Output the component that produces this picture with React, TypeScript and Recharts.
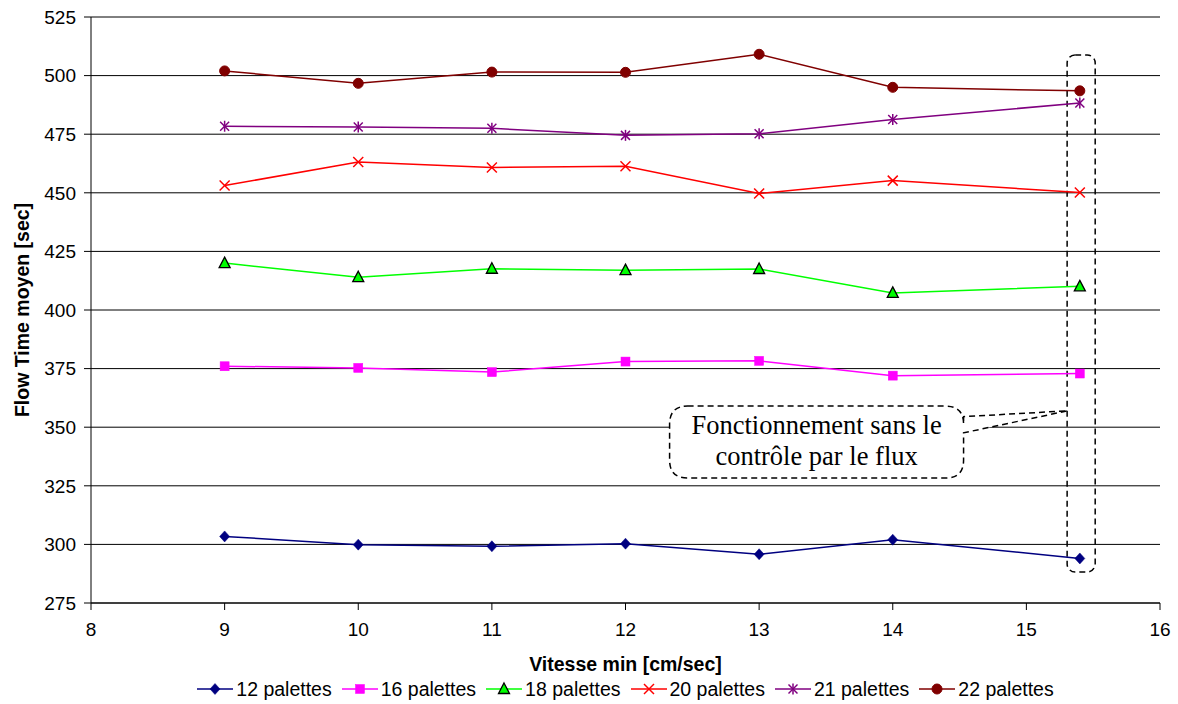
import React from 'react';
import { LineChart, Line, XAxis, YAxis, CartesianGrid, Legend, ReferenceArea, Label } from 'recharts';

const xValues = [9, 10, 11, 12, 13, 14, 15.4];
const p12 = [303.4, 299.9, 299.2, 300.3, 295.8, 302.0, 294.0];
const p16 = [376.0, 375.3, 373.5, 378.0, 378.3, 372.0, 372.9];
const p18 = [420.0, 414.0, 417.6, 417.0, 417.5, 407.3, 410.1];
const p20 = [453.1, 463.1, 460.8, 461.3, 449.7, 455.2, 450.1];
const p21 = [478.4, 478.1, 477.5, 474.5, 475.2, 481.3, 488.3];
const p22 = [502.0, 496.7, 501.5, 501.4, 509.1, 495.0, 493.5];

const seriesNames = ['12 palettes', '16 palettes', '18 palettes', '20 palettes', '21 palettes', '22 palettes'];
const seriesValues = [p12, p16, p18, p20, p21, p22];
const seriesColors = ['#000080', '#FF00FF', '#00FF00', '#FF0000', '#800080', '#800000'];
const seriesMarkers = ['diamond', 'square', 'triangle', 'x', 'star', 'circle'];

const xTicks = [8, 9, 10, 11, 12, 13, 14, 15, 16];
const yTicks = [275, 300, 325, 350, 375, 400, 425, 450, 475, 500, 525];

const xTitle = 'Vitesse min [cm/sec]';
const yTitle = 'Flow Time moyen [sec]';

// annotation (data coordinates)
const calloutLines = ['Fonctionnement sans le', 'contrôle par le flux'];
const calloutBox = { x1: 12.33, x2: 14.53, y1: 328.3, y2: 359.0 };
const calloutTip = { x: 15.31, y: 357.0 };
const calloutBase = { yTop: 354.5, yBottom: 347.6 };
const columnBox = { x1: 15.305, x2: 15.515, y1: 288.2, y2: 508.8 };

const data = xValues.map((x, i) => {
  const row: Record<string, number> = { x };
  seriesNames.forEach((n, k) => {
    row[n] = seriesValues[k][i];
  });
  return row;
});

const SANS = '"Liberation Sans", Arial, sans-serif';
const SERIF = '"Liberation Serif", "Times New Roman", serif';

function Marker({ type, color, cx, cy }: { type: string; color: string; cx: number; cy: number }) {
  switch (type) {
    case 'diamond':
      return <path d={`M${cx},${cy - 5.5}L${cx + 5},${cy}L${cx},${cy + 5.5}L${cx - 5},${cy}Z`} fill={color} stroke={color} strokeWidth={0.5} />;
    case 'square':
      return <rect x={cx - 4.5} y={cy - 4.5} width={9} height={9} fill={color} stroke={color} strokeWidth={0.5} />;
    case 'triangle':
      return <path d={`M${cx},${cy - 6}L${cx + 5.5},${cy + 4.5}L${cx - 5.5},${cy + 4.5}Z`} fill={color} stroke="#000" strokeWidth={1.3} />;
    case 'x':
      return (
        <g stroke={color} strokeWidth={1.5}>
          <line x1={cx - 5} y1={cy - 5} x2={cx + 5} y2={cy + 5} />
          <line x1={cx - 5} y1={cy + 5} x2={cx + 5} y2={cy - 5} />
        </g>
      );
    case 'star':
      return (
        <g stroke={color} strokeWidth={1.5}>
          <line x1={cx - 4.5} y1={cy - 4.5} x2={cx + 4.5} y2={cy + 4.5} />
          <line x1={cx - 4.5} y1={cy + 4.5} x2={cx + 4.5} y2={cy - 4.5} />
          <line x1={cx} y1={cy - 5.5} x2={cx} y2={cy + 5.5} />
        </g>
      );
    default:
      return <circle cx={cx} cy={cy} r={5} fill={color} stroke={color} />;
  }
}

function makeDot(k: number) {
  return (props: any) => {
    const { cx, cy, index } = props;
    if (cx == null || cy == null) return <g key={`d${k}-${index}`} />;
    return (
      <g key={`d${k}-${index}`}>
        <Marker type={seriesMarkers[k]} color={seriesColors[k]} cx={cx} cy={cy} />
      </g>
    );
  };
}

function LegendContent() {
  return (
    <div style={{ display: 'flex', justifyContent: 'center', alignItems: 'center', fontFamily: SANS, fontSize: 19.5, color: '#000' }}>
      {seriesNames.map((n, k) => (
        <div key={n} style={{ display: 'flex', alignItems: 'center', marginRight: k < seriesNames.length - 1 ? 10 : 0 }}>
          <svg width={36} height={16} style={{ marginRight: 3 }}>
            <line x1={0} y1={8} x2={36} y2={8} stroke={seriesColors[k]} strokeWidth={1.5} />
            <Marker type={seriesMarkers[k]} color={seriesColors[k]} cx={18} cy={8} />
          </svg>
          <span style={{ lineHeight: '22px' }}>{n}</span>
        </div>
      ))}
    </div>
  );
}

function CalloutShape(props: any) {
  const { x, y, width, height } = props;
  if (x == null) return null;
  const spanX = calloutTip.x - calloutBox.x1;
  const spanY = calloutBox.y2 - calloutBox.y1;
  const right = x + (width * (calloutBox.x2 - calloutBox.x1)) / spanX;
  const tipX = x + width;
  const tipY = y + (height * (calloutBox.y2 - calloutTip.y)) / spanY;
  const baseTop = y + (height * (calloutBox.y2 - calloutBase.yTop)) / spanY;
  const baseBot = y + (height * (calloutBox.y2 - calloutBase.yBottom)) / spanY;
  const left = x;
  const top = y;
  const bottom = y + height;
  const r = 18;
  const d = [
    `M${left + r},${top}`,
    `L${right - r},${top}`,
    `Q${right},${top} ${right},${top + r}`,
    `L${right},${baseTop}`,
    `L${tipX},${tipY}`,
    `L${right},${baseBot}`,
    `L${right},${bottom - r}`,
    `Q${right},${bottom} ${right - r},${bottom}`,
    `L${left + r},${bottom}`,
    `Q${left},${bottom} ${left},${bottom - r}`,
    `L${left},${top + r}`,
    `Q${left},${top} ${left + r},${top}`,
    'Z',
  ].join(' ');
  const cx = (left + right) / 2;
  return (
    <g>
      <path d={d} fill="#fff" stroke="#000" strokeWidth={1.5} strokeDasharray="6 4" />
      {calloutLines.map((t, i) => (
        <text key={t} x={cx} y={top + 28 + i * 31} textAnchor="middle" fontFamily={SERIF} fontSize={26.5} fill="#000">
          {t}
        </text>
      ))}
    </g>
  );
}

function ColumnShape(props: any) {
  const { x, y, width, height } = props;
  if (x == null) return null;
  return <rect x={x} y={y} width={width} height={height} rx={8} ry={8} fill="none" stroke="#000" strokeWidth={1.5} strokeDasharray="6 4" />;
}

export default function App() {
  return (
    <div style={{ position: 'absolute', left: 0, top: 0, width: 1178, height: 704, background: '#fff' }}>
      <LineChart width={1178} height={704} data={data} margin={{ top: 17, right: 18, bottom: 0, left: 0 }}>
        <CartesianGrid vertical={false} horizontal stroke="#000" strokeWidth={1} />
        <XAxis
          dataKey="x"
          type="number"
          domain={[8, 16]}
          ticks={xTicks}
          interval={0}
          height={65}
          stroke="#000"
          tickSize={7}
          tickMargin={13}
          tick={{ fill: '#000', fontFamily: SANS, fontSize: 19 }}
          allowDataOverflow
        >
          <Label
            content={(p: any) => {
              const vb = p.viewBox || {};
              return (
                <text x={vb.x + vb.width / 2} y={vb.y + 68} textAnchor="middle" fontFamily={SANS} fontWeight="bold" fontSize={19.5} fill="#000">
                  {xTitle}
                </text>
              );
            }}
          />
        </XAxis>
        <YAxis
          type="number"
          domain={[275, 525]}
          ticks={yTicks}
          interval={0}
          width={91}
          stroke="#000"
          tickSize={7}
          tickMargin={8}
          tick={{ fill: '#000', fontFamily: SANS, fontSize: 19 }}
          allowDataOverflow
        >
          <Label
            content={(p: any) => {
              const vb = p.viewBox || {};
              const cx = vb.x + 29;
              const cy = vb.y + vb.height / 2;
              return (
                <text x={cx} y={cy} transform={`rotate(-90 ${cx} ${cy})`} textAnchor="middle" fontFamily={SANS} fontWeight="bold" fontSize={19.5} fill="#000">
                  {yTitle}
                </text>
              );
            }}
          />
        </YAxis>
        <ReferenceArea
          x1={columnBox.x1}
          x2={columnBox.x2}
          y1={columnBox.y1}
          y2={columnBox.y2}
          shape={(p: any) => <ColumnShape {...p} />}
          ifOverflow="visible"
        />
        <ReferenceArea
          x1={calloutBox.x1}
          x2={calloutTip.x}
          y1={calloutBox.y1}
          y2={calloutBox.y2}
          shape={(p: any) => <CalloutShape {...p} />}
          ifOverflow="visible"
        />
        {seriesNames.map((n, k) => (
          <Line
            key={n}
            dataKey={n}
            name={n}
            stroke={seriesColors[k]}
            strokeWidth={1.5}
            dot={makeDot(k)}
            activeDot={false}
            isAnimationActive={false}
          />
        ))}
        <Legend
          verticalAlign="bottom"
          height={36}
          content={() => <LegendContent />}
          wrapperStyle={{ position: 'absolute', left: 91, width: 1069, top: 678 }}
        />
      </LineChart>
    </div>
  );
}
